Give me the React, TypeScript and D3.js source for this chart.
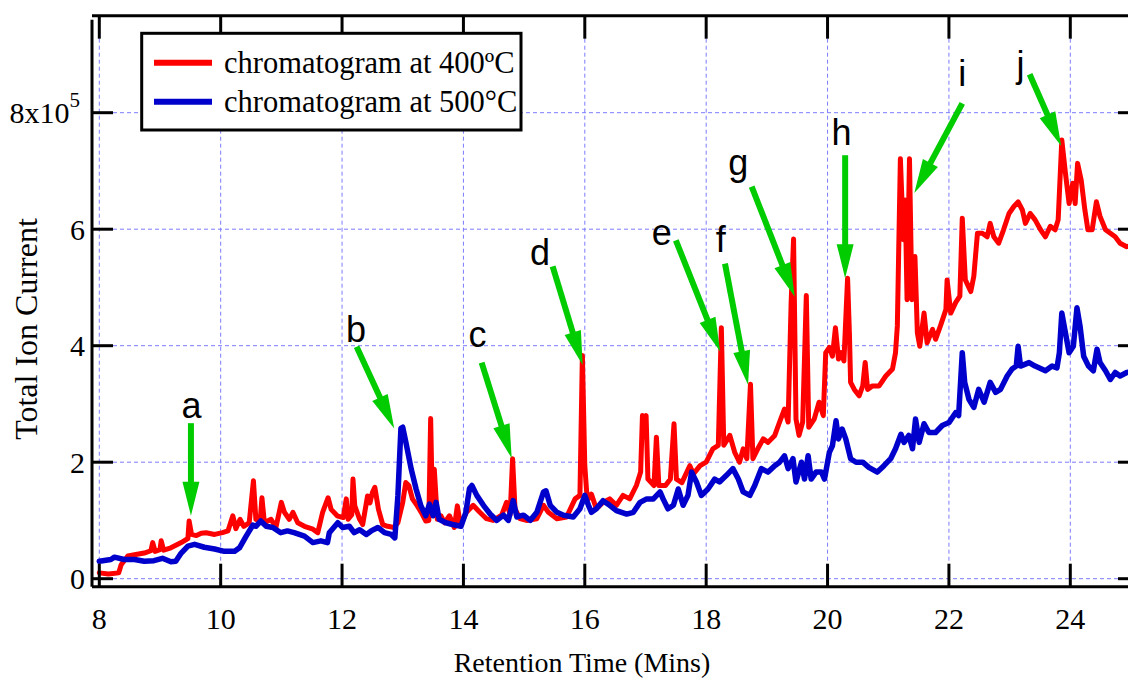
import React from 'react';
import * as d3 from 'd3';

// ---- data (retention time in minutes, total ion current in units of 1e5) ----
const xTicks = [8, 10, 12, 14, 16, 18, 20, 22, 24];
const yTicks = [0, 2, 4, 6, 8];

const series400: [number, number][] = [
  [8.0,0.10],[8.15,0.08],[8.32,0.10],[8.36,0.24],[8.47,0.39],[8.58,0.41],[8.74,0.44],[8.85,0.48],[8.88,0.62],[8.92,0.47],
  [9.0,0.50],[9.02,0.65],[9.06,0.49],[9.18,0.53],[9.35,0.62],[9.46,0.69],[9.48,0.99],[9.52,0.76],[9.6,0.74],[9.68,0.78],
  [9.76,0.79],[9.9,0.76],[10.03,0.79],[10.12,0.82],[10.2,1.08],[10.25,0.86],[10.32,1.02],[10.38,0.90],[10.47,0.96],[10.54,1.68],
  [10.58,1.02],[10.65,0.98],[10.68,1.39],[10.72,0.96],[10.83,1.02],[10.91,0.88],[11.0,1.31],[11.05,1.14],[11.13,1.02],[11.19,1.14],
  [11.27,0.96],[11.38,0.90],[11.52,0.85],[11.6,0.79],[11.68,1.14],[11.77,1.39],[11.82,1.19],[11.92,1.08],[12.02,1.05],[12.07,1.37],
  [12.1,1.02],[12.16,1.10],[12.18,1.71],[12.21,1.25],[12.29,1.02],[12.34,0.93],[12.42,1.42],[12.46,1.30],[12.5,1.48],[12.54,1.57],
  [12.6,1.19],[12.67,0.93],[12.75,0.90],[12.86,0.88],[12.92,0.96],[13.0,1.31],[13.05,1.65],[13.1,1.60],[13.16,1.37],[13.24,1.25],
  [13.32,1.11],[13.38,0.99],[13.43,1.00],[13.46,2.75],[13.49,1.14],[13.52,1.88],[13.57,1.02],[13.63,1.08],[13.69,0.96],[13.77,1.08],
  [13.85,0.88],[13.9,1.25],[13.95,0.92],[14.05,1.14],[14.16,1.26],[14.27,1.14],[14.38,1.03],[14.49,1.00],[14.63,1.09],[14.71,1.31],
  [14.77,1.10],[14.81,2.06],[14.85,1.20],[14.93,1.03],[15.04,1.00],[15.21,1.03],[15.32,1.26],[15.4,1.14],[15.54,1.03],[15.7,1.06],
  [15.84,1.37],[15.92,1.43],[15.96,3.83],[16.0,1.94],[16.03,1.50],[16.06,1.37],[16.11,1.45],[16.19,1.20],[16.3,1.31],[16.41,1.37],
  [16.52,1.26],[16.63,1.43],[16.74,1.37],[16.85,1.60],[16.92,1.83],[16.95,2.80],[16.99,2.70],[17.01,2.80],[17.04,1.71],[17.14,1.60],
  [17.18,2.43],[17.22,1.60],[17.33,1.60],[17.41,1.71],[17.47,2.66],[17.51,1.71],[17.6,1.65],[17.73,1.94],[17.79,1.80],[17.9,1.94],
  [18.0,2.00],[18.11,2.23],[18.2,2.29],[18.25,4.31],[18.29,2.29],[18.39,2.46],[18.47,2.17],[18.55,2.00],[18.61,2.23],[18.67,2.06],
  [18.73,3.34],[18.77,2.06],[18.85,2.23],[18.94,2.40],[19.02,2.34],[19.13,2.46],[19.21,2.69],[19.29,2.91],[19.35,2.69],[19.4,4.74],
  [19.44,5.83],[19.48,2.74],[19.53,2.46],[19.59,2.69],[19.65,4.86],[19.69,2.60],[19.78,2.74],[19.86,3.03],[19.93,2.80],[19.97,3.88],
  [20.03,3.97],[20.08,3.82],[20.13,4.31],[20.18,3.77],[20.22,3.88],[20.27,3.74],[20.33,5.16],[20.36,4.22],[20.38,3.37],[20.44,3.25],
  [20.52,3.14],[20.58,3.31],[20.62,3.71],[20.66,3.25],[20.74,3.31],[20.85,3.31],[20.96,3.48],[21.07,3.60],[21.12,3.88],[21.15,4.34],
  [21.2,7.21],[21.25,5.82],[21.28,6.50],[21.31,4.79],[21.35,7.21],[21.39,4.79],[21.44,5.53],[21.48,4.22],[21.52,3.99],[21.59,4.56],
  [21.64,4.05],[21.73,4.28],[21.78,4.11],[21.86,4.34],[21.95,4.62],[21.97,5.13],[22.03,4.56],[22.11,4.74],[22.18,4.85],[22.22,6.19],
  [22.27,5.13],[22.36,4.93],[22.41,5.19],[22.47,5.93],[22.55,5.93],[22.63,5.87],[22.68,6.10],[22.74,5.87],[22.82,5.76],[22.9,5.99],
  [22.99,6.27],[23.07,6.39],[23.14,6.47],[23.21,6.33],[23.26,6.10],[23.34,6.27],[23.42,6.16],[23.51,5.99],[23.59,5.87],[23.67,6.05],
  [23.75,5.99],[23.8,6.16],[23.86,7.53],[23.92,6.96],[23.98,6.44],[24.04,6.79],[24.08,6.44],[24.12,7.13],[24.18,6.84],[24.24,6.33],
  [24.29,5.99],[24.36,5.99],[24.43,6.47],[24.49,6.22],[24.58,5.99],[24.66,5.93],[24.74,5.87],[24.82,5.76],[24.93,5.70],[25.0,5.72],
];

const series500: [number, number][] = [
  [8.0,0.30],[8.19,0.33],[8.25,0.37],[8.41,0.33],[8.58,0.33],[8.74,0.30],[8.9,0.31],[9.04,0.35],[9.18,0.29],[9.26,0.30],
  [9.35,0.44],[9.46,0.56],[9.57,0.59],[9.73,0.54],[9.9,0.51],[10.06,0.47],[10.23,0.47],[10.31,0.53],[10.42,0.73],[10.53,0.92],
  [10.58,0.90],[10.66,0.99],[10.75,0.90],[10.86,0.88],[10.99,0.79],[11.1,0.82],[11.21,0.79],[11.38,0.73],[11.52,0.62],[11.65,0.65],
  [11.76,0.62],[11.79,0.79],[11.93,0.96],[12.01,0.88],[12.12,0.90],[12.2,0.79],[12.29,0.84],[12.4,0.76],[12.48,0.82],[12.59,0.88],
  [12.7,0.79],[12.81,0.76],[12.87,0.70],[12.92,1.42],[12.97,2.58],[13.0,2.60],[13.05,2.35],[13.14,1.88],[13.22,1.54],[13.3,1.25],
  [13.38,1.08],[13.44,1.28],[13.5,1.08],[13.55,1.31],[13.6,1.02],[13.71,0.96],[13.82,0.93],[13.96,0.90],[14.04,1.14],[14.1,1.55],
  [14.14,1.60],[14.22,1.43],[14.33,1.26],[14.44,1.11],[14.55,1.00],[14.66,1.09],[14.74,1.00],[14.82,1.34],[14.88,1.06],[14.99,1.09],
  [15.1,1.00],[15.21,1.14],[15.32,1.49],[15.36,1.51],[15.43,1.26],[15.54,1.14],[15.65,1.09],[15.81,1.06],[15.92,1.20],[16.0,1.43],
  [16.06,1.26],[16.11,1.14],[16.19,1.20],[16.3,1.34],[16.41,1.26],[16.52,1.17],[16.69,1.11],[16.8,1.14],[16.91,1.31],[17.02,1.37],
  [17.13,1.37],[17.24,1.49],[17.29,1.37],[17.37,1.20],[17.46,1.26],[17.54,1.54],[17.62,1.26],[17.7,1.43],[17.76,1.83],[17.84,1.66],
  [17.92,1.43],[18.03,1.54],[18.14,1.71],[18.22,1.66],[18.33,1.77],[18.44,1.89],[18.53,1.71],[18.61,1.49],[18.72,1.43],[18.8,1.60],
  [18.91,1.89],[19.02,1.83],[19.13,1.94],[19.21,2.00],[19.29,2.11],[19.35,1.89],[19.43,2.06],[19.48,1.66],[19.57,2.00],[19.62,1.71],
  [19.68,2.11],[19.73,1.71],[19.81,1.83],[19.9,1.83],[19.95,1.71],[20.03,2.17],[20.08,2.28],[20.14,2.71],[20.18,2.40],[20.24,2.57],
  [20.3,2.40],[20.38,2.06],[20.47,2.00],[20.58,2.00],[20.68,1.91],[20.82,1.83],[20.93,1.94],[21.04,2.06],[21.12,2.23],[21.21,2.48],
  [21.26,2.34],[21.34,2.46],[21.4,2.23],[21.45,2.74],[21.51,2.34],[21.59,2.66],[21.67,2.51],[21.78,2.51],[21.89,2.63],[22.0,2.68],
  [22.11,2.85],[22.16,2.80],[22.22,3.88],[22.26,3.37],[22.33,3.08],[22.41,2.94],[22.49,3.25],[22.58,3.03],[22.68,3.37],[22.77,3.20],
  [22.85,3.25],[22.96,3.48],[23.04,3.60],[23.11,3.65],[23.14,3.99],[23.18,3.65],[23.32,3.71],[23.42,3.65],[23.59,3.57],[23.7,3.65],
  [23.78,3.62],[23.82,3.88],[23.86,4.56],[23.92,4.22],[23.98,3.88],[24.05,3.99],[24.11,4.65],[24.16,4.34],[24.22,3.82],[24.3,3.65],
  [24.38,3.57],[24.44,3.94],[24.49,3.71],[24.58,3.57],[24.66,3.42],[24.74,3.54],[24.82,3.48],[24.93,3.54],[25.0,3.55],
];

// peak annotations: label, label baseline position, arrow start, arrow tip (data units)
const peakLabels = ['a', 'b', 'c', 'd', 'e', 'f', 'g', 'h', 'i', 'j'];
const labelPos: [number, number][] = [
  [9.52, 2.76], [12.23, 4.07], [14.23, 3.98], [15.26, 5.385], [17.27, 5.73],
  [18.24, 5.61], [18.53, 6.93], [20.23, 7.445], [22.22, 8.45], [23.18, 8.62],
];
const arrowFrom: [number, number][] = [
  [9.51, 2.67], [12.24, 3.98], [14.30, 3.71], [15.47, 5.36], [17.50, 5.81],
  [18.31, 5.41], [18.75, 6.73], [20.29, 7.27], [22.22, 8.16], [23.33, 8.66],
];
const arrowTo: [number, number][] = [
  [9.51, 1.08], [12.86, 2.58], [14.795, 2.07], [15.965, 3.67], [18.23, 3.90],
  [18.69, 3.33], [19.46, 4.84], [20.29, 5.16], [21.43, 6.62], [23.85, 7.43],
];

const legendItems = [
  { label: 'chromatogram at 400ºC', color: '#ff0000' },
  { label: 'chromatogram at 500°C', color: '#0000cc' },
];

// ---- layout ----
const W = 1128;
const H = 681;
const frame = { left: 92, right: 1139, top: 15.7, bottom: 586.7 };
const serif = '"Liberation Serif", "Times New Roman", serif';
const sans = '"Liberation Sans", Arial, sans-serif';
const gridColor = '#7c7cff';
const green = '#00cc00';

function Arrow({ from, to }: { from: [number, number]; to: [number, number] }) {
  const dx = to[0] - from[0];
  const dy = to[1] - from[1];
  const len = Math.hypot(dx, dy);
  const ux = dx / len, uy = dy / len;
  const px = -uy, py = ux;
  const headLen = 34, headW = 8.5;
  const bx = to[0] - ux * headLen, by = to[1] - uy * headLen;
  const head = [
    [to[0], to[1]],
    [bx + px * headW, by + py * headW],
    [bx - px * headW, by - py * headW],
  ].map((p) => p.join(',')).join(' ');
  return (
    <g>
      <line x1={from[0]} y1={from[1]} x2={bx + ux * 2} y2={by + uy * 2} stroke={green} strokeWidth={6} />
      <polygon points={head} fill={green} />
    </g>
  );
}

export default function App() {
  const x = d3.scaleLinear().domain([8, 24]).range([99.3, 1070.3]);
  const y = d3.scaleLinear().domain([0, 8]).range([578.7, 112.7]);
  const line = d3
    .line<[number, number]>()
    .x((d) => x(d[0]))
    .y((d) => y(d[1]));

  const tickLen = 23;

  return (
    <svg
      width={W}
      height={H}
      viewBox={`0 0 ${W} ${H}`}
      style={{ position: 'absolute', left: 0, top: 0, background: '#ffffff' }}
    >
      <defs>
        <clipPath id="plotClip">
          <rect x={frame.left} y={frame.top} width={frame.right - frame.left} height={frame.bottom - frame.top} />
        </clipPath>
      </defs>
      <rect x={0} y={0} width={W} height={H} fill="#ffffff" />

      {/* grid */}
      <g stroke={gridColor} strokeWidth={1} strokeDasharray="4 3">
        {xTicks.map((t) => (
          <line key={'gx' + t} x1={x(t)} x2={x(t)} y1={frame.top + tickLen} y2={frame.bottom - tickLen} />
        ))}
        {yTicks.map((t) => (
          <line key={'gy' + t} x1={frame.left + 21} x2={frame.right - 21} y1={y(t)} y2={y(t)} />
        ))}
      </g>

      {/* data */}
      <g clipPath="url(#plotClip)" fill="none" strokeLinejoin="round" strokeLinecap="round">
        <path d={line(series400) || ''} stroke="#ff0000" strokeWidth={5} />
        <path d={line(series500) || ''} stroke="#0000cc" strokeWidth={5.5} />
      </g>

      {/* arrows & labels */}
      {peakLabels.map((lab, i) => (
        <g key={lab}>
          <Arrow from={[x(arrowFrom[i][0]), y(arrowFrom[i][1])]} to={[x(arrowTo[i][0]), y(arrowTo[i][1])]} />
          <text x={x(labelPos[i][0])} y={y(labelPos[i][1])} fontFamily={sans} fontSize={36} textAnchor="middle" fill="#000">
            {lab}
          </text>
        </g>
      ))}

      {/* frame */}
      <g stroke="#000" strokeWidth={3} fill="none">
        <line x1={frame.left} x2={frame.right} y1={frame.top} y2={frame.top} />
        <line x1={frame.left} x2={frame.right} y1={frame.bottom} y2={frame.bottom} />
        <line x1={frame.left} x2={frame.left} y1={frame.top + 4} y2={frame.bottom} />
        <line x1={frame.right} x2={frame.right} y1={frame.top} y2={frame.bottom} />
        {xTicks.map((t) => (
          <g key={'tx' + t}>
            <line x1={x(t)} x2={x(t)} y1={frame.bottom} y2={frame.bottom - tickLen} />
            <line x1={x(t)} x2={x(t)} y1={frame.top} y2={frame.top + tickLen} />
          </g>
        ))}
        {yTicks.map((t) => (
          <g key={'ty' + t}>
            <line x1={frame.left} x2={frame.left + 21} y1={y(t)} y2={y(t)} />
            <line x1={frame.right} x2={frame.right - 21} y1={y(t)} y2={y(t)} />
          </g>
        ))}
      </g>

      {/* tick labels */}
      <g fontFamily={serif} fontSize={30} fill="#000">
        {xTicks.map((t) => (
          <text key={'lx' + t} x={x(t)} y={629} textAnchor="middle">
            {t}
          </text>
        ))}
        {yTicks.map((t) =>
          t === 8 ? (
            <text key={'ly' + t} x={80} y={y(t) + 10.5} textAnchor="end">
              8x10
              <tspan fontSize={21} dy={-16}>5</tspan>
            </text>
          ) : (
            <text key={'ly' + t} x={85} y={y(t) + 10.5} textAnchor="end">
              {t}
            </text>
          )
        )}
      </g>

      {/* axis titles */}
      <text x={582} y={672} fontFamily={serif} fontSize={28} textAnchor="middle" fill="#000">
        Retention Time (Mins)
      </text>
      <text
        transform={`translate(37, 329) rotate(-90)`}
        fontFamily={serif}
        fontSize={32}
        textAnchor="middle"
        fill="#000"
      >
        Total Ion Current
      </text>

      {/* legend */}
      <g>
        <rect x={141.7} y={33.3} width={379.3} height={96.7} fill="#ffffff" stroke="#000" strokeWidth={3} />
        {legendItems.map((it, i) => (
          <g key={it.label}>
            <line x1={154} x2={212} y1={62.7 + i * 39} y2={62.7 + i * 39} stroke={it.color} strokeWidth={6} />
            <text x={224} y={62.7 + i * 39 + 10.5} fontFamily={serif} fontSize={30.5} fill="#000">
              {it.label}
            </text>
          </g>
        ))}
      </g>
    </svg>
  );
}
